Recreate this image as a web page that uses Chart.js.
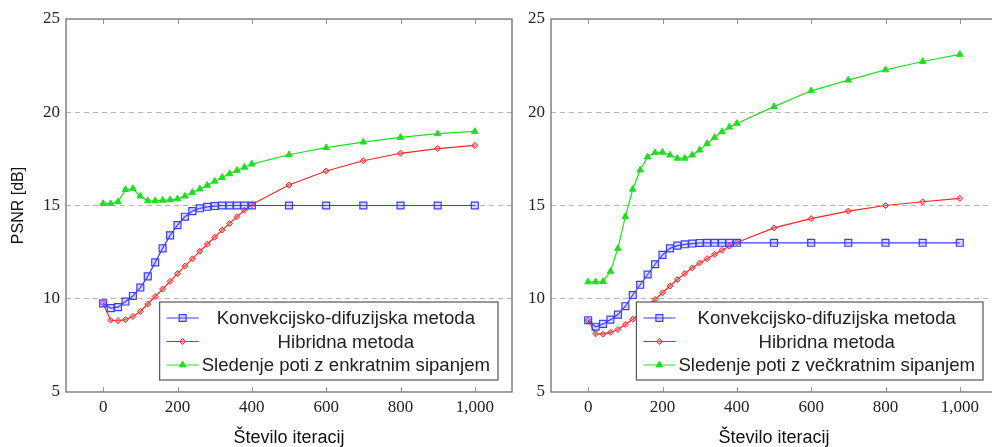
<!DOCTYPE html>
<html><head><meta charset="utf-8">
<script src="https://cdn.jsdelivr.net/npm/chart.js@4.4.1/dist/chart.umd.min.js"></script>
<style>
html,body{margin:0;padding:0;background:#fff;overflow:hidden;width:992px;height:447px;position:relative}
canvas{position:absolute;top:0}
#c1{left:0}
#c2{left:485px}
</style></head><body>
<canvas id="c1" width="520" height="447"></canvas>
<canvas id="c2" width="520" height="447"></canvas>
<script>
// ---- data ----
const iterations = [0,20,40,60,80,100,120,140,160,180,200,220,240,260,280,300,320,340,360,380,400,500,600,700,800,900,1000];

const seriesNames = ['Konvekcijsko-difuzijska metoda', 'Hibridna metoda'];
const greenNameLeft = 'Sledenje poti z enkratnim sipanjem';
const greenNameRight = 'Sledenje poti z večkratnim sipanjem';

const leftConvDiff = [9.75,9.5,9.55,9.85,10.15,10.6,11.2,11.95,12.7,13.4,13.95,14.4,14.7,14.85,14.93,14.97,15.0,15.0,15.0,15.0,15.0,15.0,15.0,15.0,15.0,15.0,15.0];
const leftHybrid   = [9.75,8.85,8.82,8.88,9.05,9.32,9.72,10.12,10.52,10.93,11.35,11.75,12.14,12.55,12.92,13.3,13.68,14.04,14.4,14.75,15.05,16.1,16.85,17.4,17.8,18.05,18.22];
const leftSingle   = [15.1,15.1,15.2,15.85,15.9,15.5,15.25,15.25,15.28,15.3,15.35,15.5,15.7,15.88,16.08,16.3,16.5,16.7,16.88,17.05,17.22,17.72,18.1,18.4,18.65,18.85,18.97];

const rightConvDiff = [8.85,8.5,8.65,8.88,9.15,9.6,10.2,10.75,11.3,11.85,12.35,12.7,12.85,12.92,12.96,12.99,13.0,13.0,13.0,13.0,13.0,13.0,13.0,13.0,13.0,13.0,13.0];
const rightHybrid   = [8.85,8.12,8.1,8.2,8.35,8.62,8.9,9.25,9.6,9.96,10.32,10.68,11.03,11.35,11.65,11.92,12.15,12.38,12.6,12.82,13.02,13.8,14.3,14.7,15.0,15.2,15.38];
const rightMultiple = [10.9,10.9,10.92,11.47,12.7,14.4,15.87,16.9,17.6,17.83,17.85,17.7,17.53,17.53,17.7,17.97,18.32,18.65,18.95,19.2,19.4,20.3,21.15,21.72,22.27,22.72,23.1];

const xTickValues = [0,200,400,600,800,1000];
const xTickLabels = ['0','200','400','600','800','1,000'];
const yTickValues = [5,10,15,20,25];
const yTickLabels = ['5','10','15','20','25'];
const xTitle = 'Število iteracij';
const yTitle = 'PSNR [dB]';

// ---- styling ----
const BLUE = '#3c3cff', RED = '#ff2424', GREEN = '#1de01d';
const SERIF = '"Liberation Serif", "Times New Roman", serif';
const SANS = '"Liberation Sans", Arial, sans-serif';

function pts(arr){ return iterations.map((x,i)=>({x:x, y:arr[i]})); }

function makeDatasets(b, r, g, gName){
  return [
    {label: seriesNames[0], data: pts(b), borderColor: BLUE, backgroundColor: 'rgba(90,90,255,0.22)',
     borderWidth: 1.2, pointStyle: 'rect', pointRadius: 4.9, pointBorderWidth: 1.2, pointBorderColor: BLUE, pointBackgroundColor:'rgba(90,90,255,0.22)'},
    {label: seriesNames[1], data: pts(r), borderColor: RED, backgroundColor: 'rgba(255,90,90,0.5)',
     borderWidth: 1.2, pointStyle: 'rectRot', pointRadius: 3, pointBorderWidth: 1, pointBorderColor: RED, pointBackgroundColor:'rgba(255,110,110,0.5)'},
    {label: gName, data: pts(g), borderColor: GREEN, backgroundColor: GREEN,
     borderWidth: 1.2, pointStyle: 'triangle', pointRadius: 3.8, pointBorderWidth: 1, pointBorderColor: GREEN, pointBackgroundColor: GREEN}
  ];
}

const framePlugin = {
  id: 'frameLegend',
  afterDraw(chart){
    const ctx = chart.ctx, a = chart.chartArea, xs = chart.scales.x;
    ctx.save();
    // x tick marks (inward, top and bottom)
    ctx.strokeStyle = '#999'; ctx.lineWidth = 1;
    xTickValues.forEach(v=>{
      const px = Math.round(xs.getPixelForValue(v)) + 0.5;
      ctx.beginPath(); ctx.moveTo(px, a.bottom); ctx.lineTo(px, a.bottom - 5);
      ctx.moveTo(px, a.top); ctx.lineTo(px, a.top + 5); ctx.stroke();
    });
    // frame
    ctx.strokeStyle = '#6e6e6e'; ctx.lineWidth = 1.3;
    ctx.strokeRect(a.left, a.top, a.right - a.left, a.bottom - a.top);
    // legend
    ctx.font = '18.6px ' + SANS;
    const labels = chart.data.datasets.map(d=>d.label);
    const maxW = Math.max(...labels.map(t=>ctx.measureText(t).width));
    const boxW = 42 + maxW + 8;
    const rowH = 23.5, boxH = 78;
    const right = a.right - 14, bottom = a.bottom - 12;
    const left = right - boxW, top = bottom - boxH;
    ctx.fillStyle = '#fff';
    ctx.fillRect(left, top, boxW, boxH);
    ctx.strokeStyle = '#555'; ctx.lineWidth = 1.2;
    ctx.strokeRect(left, top, boxW, boxH);
    const textCx = left + 42 + maxW/2;
    chart.data.datasets.forEach((d,i)=>{
      const cy = top + 16 + i*rowH;
      const sx0 = left + 7, sx1 = left + 39;
      ctx.strokeStyle = d.borderColor; ctx.lineWidth = 1.2;
      ctx.beginPath(); ctx.moveTo(sx0, cy); ctx.lineTo(sx1, cy); ctx.stroke();
      ctx.fillStyle = d.pointBackgroundColor;
      ctx.strokeStyle = d.pointBorderColor; ctx.lineWidth = d.pointBorderWidth;
      Chart.helpers.drawPoint(ctx, {pointStyle: d.pointStyle, radius: d.pointRadius, rotation: 0, borderWidth: d.pointBorderWidth}, (sx0+sx1)/2, cy);
      ctx.fillStyle = '#222'; ctx.textAlign = 'center'; ctx.textBaseline = 'middle';
      ctx.fillText(d.label, textCx, cy + 1);
    });
    ctx.restore();
  }
};

function makeChart(id, datasets, showYTitle){
  return new Chart(document.getElementById(id), {
    type: 'line',
    data: {datasets},
    plugins: [framePlugin],
    options: {
      responsive: false, animation: false, devicePixelRatio: 1,
      layout: {padding: {top: 19, right: 8, left: 0, bottom: 0}},
      plugins: {legend: {display: false}, tooltip: {enabled: false}},
      elements: {line: {tension: 0}},
      scales: {
        x: {
          type: 'linear', min: -100, max: 1100,
          afterBuildTicks: s => { s.ticks = xTickValues.map(v=>({value:v})); },
          afterFit: s => { s.height = 55; },
          grid: {display: false, drawTicks: false},
          border: {display: false},
          ticks: {padding: 5, color: '#222', maxRotation: 0,
                  font: {family: SERIF, size: 17},
                  callback: v => xTickLabels[xTickValues.indexOf(v)]},
          title: {display: true, text: xTitle, color: '#111', padding: {top: 0, bottom: 0},
                  font: {family: SANS, size: 18, lineHeight: 1.0}}
        },
        y: {
          type: 'linear', min: 5, max: 25,
          afterBuildTicks: s => { s.ticks = yTickValues.map(v=>({value:v})); },
          afterFit: s => { s.width = 66; },
          grid: {drawTicks: false, lineWidth: 1,
                 color: c => (c.tick && c.tick.value > 5 && c.tick.value < 25) ? '#b4b4b4' : 'rgba(0,0,0,0)'},
          border: {display: false, dash: [5,4]},
          ticks: {padding: 6, color: '#222',
                  font: {family: SERIF, size: 17},
                  callback: v => yTickLabels[yTickValues.indexOf(v)]},
          title: {display: showYTitle, text: yTitle, color: '#111', padding: {top: 9, bottom: 0},
                  font: {family: SANS, size: 16}}
        }
      }
    }
  });
}

makeChart('c1', makeDatasets(leftConvDiff, leftHybrid, leftSingle, greenNameLeft), true);
makeChart('c2', makeDatasets(rightConvDiff, rightHybrid, rightMultiple, greenNameRight), false);
</script>
</body></html>
